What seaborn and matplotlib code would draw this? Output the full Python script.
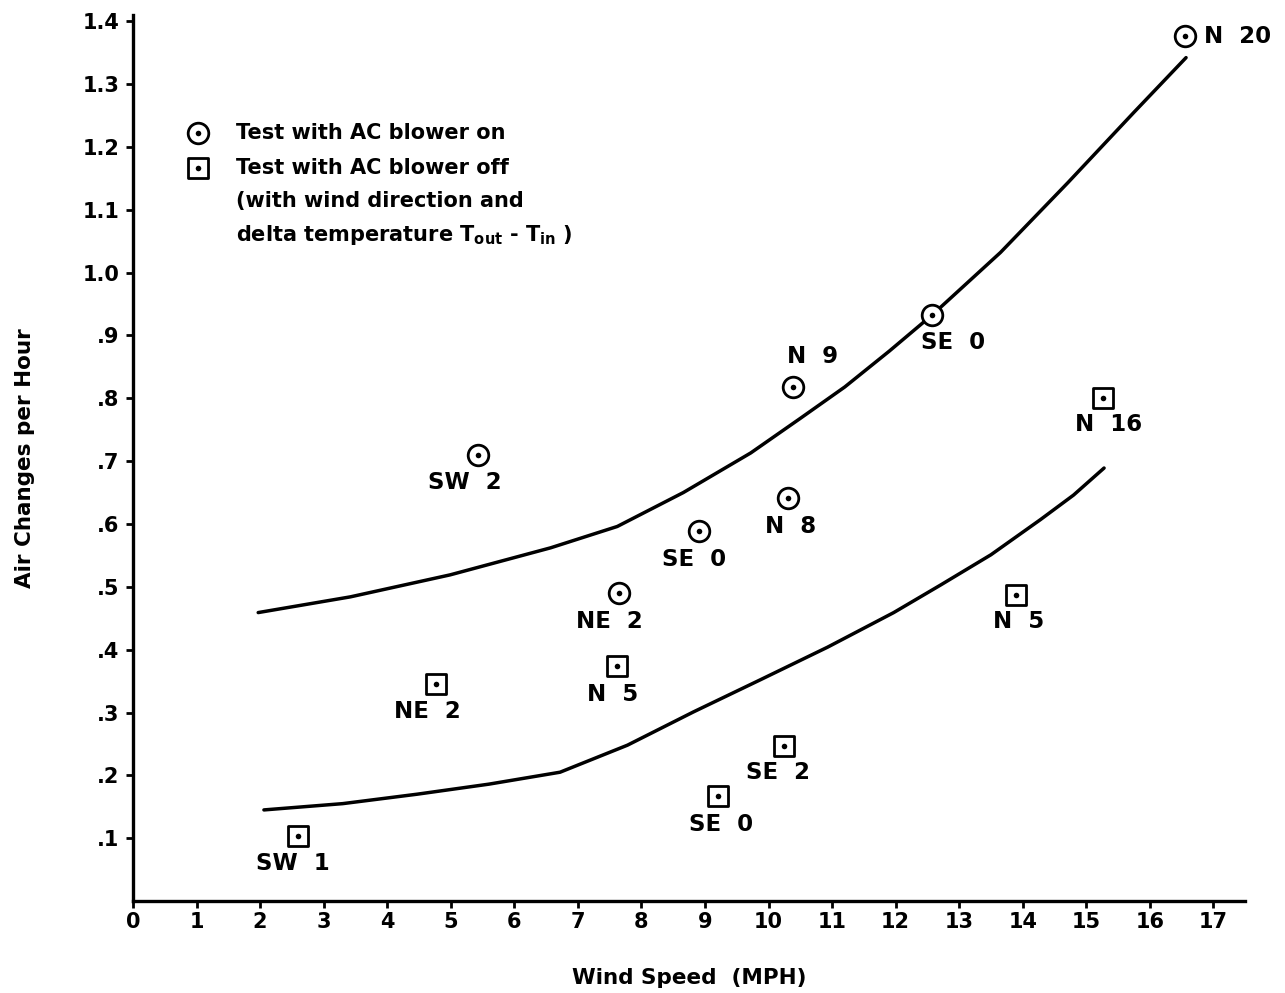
import numpy as np
import pandas as pd
import matplotlib
matplotlib.use("Agg")
import matplotlib.pyplot as plt
import seaborn as sns

# ---------------- data ----------------
on_x = [16.55, 12.57, 10.39, 5.43, 10.31, 8.91, 7.64]
on_y = [1.376, 0.932, 0.818, 0.709, 0.642, 0.589, 0.490]
on_labels = ["N  20", "SE  0", "N  9", "SW  2", "N  8", "SE  0", "NE  2"]

off_x = [15.26, 13.90, 4.76, 7.61, 10.25, 9.20, 2.60]
off_y = [0.801, 0.487, 0.346, 0.374, 0.247, 0.167, 0.104]
off_labels = ["N  16", "N  5", "NE  2", "N  5", "SE  2", "SE  0", "SW  1"]

upper_x = [1.97, 3.42, 4.99, 6.57, 7.62, 8.66, 9.72, 10.50, 11.20, 11.90, 12.58, 13.65, 14.71, 15.75, 16.57]
upper_y = [0.459, 0.484, 0.519, 0.562, 0.596, 0.650, 0.713, 0.768, 0.818, 0.875, 0.933, 1.032, 1.143, 1.255, 1.342]

lower_x = [2.06, 3.30, 4.47, 5.60, 6.72, 7.78, 8.82, 9.87, 10.93, 11.97, 12.71, 13.50, 14.28, 14.80, 15.28]
lower_y = [0.145, 0.155, 0.170, 0.186, 0.205, 0.248, 0.301, 0.352, 0.404, 0.459, 0.503, 0.551, 0.607, 0.646, 0.689]

x_ticks = list(range(0, 18))
y_ticks = [0.1, 0.2, 0.3, 0.4, 0.5, 0.6, 0.7, 0.8, 0.9, 1.0, 1.1, 1.2, 1.3, 1.4]
y_tick_labels = [".1", ".2", ".3", ".4", ".5", ".6", ".7", ".8", ".9", "1.0", "1.1", "1.2", "1.3", "1.4"]

legend_on = "Test with AC blower on"
legend_off = "Test with AC blower off"
legend_note1 = "(with wind direction and"
legend_note2 = r"delta temperature T$_{\mathbf{out}}$ - T$_{\mathbf{in}}$ )"
xlabel = "Wind Speed  (MPH)"
ylabel = "Air Changes per Hour"

# label offsets in pixels (layout only)
on_offsets = [(19, 0), (21, -27), (19, 30), (-13, -27), (2, -29), (-5, -29), (-9, -28)]
off_offsets = [(6, -27), (2, -27), (-8, -28), (-4, -29), (-6, -27), (3, -28), (-5, -28)]

# ---------------- style ----------------
sns.set_theme(style="white")
plt.rcParams["font.family"] = ["DejaVu Sans"]
plt.rcParams["font.weight"] = "bold"
plt.rcParams["text.color"] = "black"
plt.rcParams["axes.labelcolor"] = "black"
plt.rcParams["xtick.color"] = "black"
plt.rcParams["ytick.color"] = "black"
plt.rcParams["mathtext.fontset"] = "dejavusans"
plt.rcParams["mathtext.default"] = "bf"

fig = plt.figure(figsize=(12.85, 9.93), dpi=100)
ax = fig.add_axes([0.1035, 0.0926, 0.8655, 0.8924])

on_df = pd.DataFrame({"speed": on_x, "ach": on_y, "label": on_labels})
off_df = pd.DataFrame({"speed": off_x, "ach": off_y, "label": off_labels})
up_df = pd.DataFrame({"speed": upper_x, "ach": upper_y})
lo_df = pd.DataFrame({"speed": lower_x, "ach": lower_y})

sns.lineplot(data=up_df, x="speed", y="ach", ax=ax, color="black", linewidth=2.5,
             sort=True, solid_joinstyle="round", solid_capstyle="round")
sns.lineplot(data=lo_df, x="speed", y="ach", ax=ax, color="black", linewidth=2.5,
             sort=True, solid_joinstyle="round", solid_capstyle="round")

# open markers
sns.scatterplot(data=on_df, x="speed", y="ach", ax=ax, marker="o", s=220,
                facecolor="white", edgecolor="black", linewidth=2.0, zorder=3)
sns.scatterplot(data=off_df, x="speed", y="ach", ax=ax, marker="s", s=190,
                facecolor="white", edgecolor="black", linewidth=2.0, zorder=3)
# center dots
sns.scatterplot(data=on_df, x="speed", y="ach", ax=ax, marker="o", s=16,
                color="black", edgecolor="black", linewidth=0, zorder=4)
sns.scatterplot(data=off_df, x="speed", y="ach", ax=ax, marker="o", s=16,
                color="black", edgecolor="black", linewidth=0, zorder=4)

for xv, yv, lab, (dx, dy) in zip(on_x, on_y, on_labels, on_offsets):
    ha = "left" if dy == 0 else "center"
    ax.annotate(lab, (xv, yv), xytext=(dx, dy), textcoords="offset pixels",
                ha=ha, va="center", fontsize=16.5, fontweight="bold", color="black")
for xv, yv, lab, (dx, dy) in zip(off_x, off_y, off_labels, off_offsets):
    ax.annotate(lab, (xv, yv), xytext=(dx, dy), textcoords="offset pixels",
                ha="center", va="center", fontsize=16.5, fontweight="bold", color="black")

ax.set_xlim(0, 17.5)
ax.set_ylim(0, 1.41)
ax.set_xticks(x_ticks)
ax.set_xticklabels([str(t) for t in x_ticks])
ax.set_yticks(y_ticks)
ax.set_yticklabels(y_tick_labels)

for side in ["top", "right"]:
    ax.spines[side].set_visible(False)
for side in ["left", "bottom"]:
    ax.spines[side].set_linewidth(2.4)
    ax.spines[side].set_color("black")

ax.tick_params(axis="both", which="major", direction="out", length=5, width=2,
               color="black", labelsize=15, labelcolor="black", left=True, bottom=True)
ax.tick_params(axis="y", pad=5)
ax.tick_params(axis="x", pad=3)
for t in ax.get_xticklabels() + ax.get_yticklabels():
    t.set_fontweight("bold")

ax.set_xlabel(xlabel, fontsize=15.5, fontweight="bold", labelpad=26)
ax.set_ylabel(ylabel, fontsize=15.5, fontweight="bold", labelpad=34)

# legend (drawn manually in axes coordinates)
ax.scatter([0.0585], [0.8668], transform=ax.transAxes, marker="o", s=220,
           facecolor="white", edgecolor="black", linewidth=2.0, zorder=5)
ax.scatter([0.0585], [0.8273], transform=ax.transAxes, marker="s", s=190,
           facecolor="white", edgecolor="black", linewidth=2.0, zorder=5)
ax.scatter([0.0585, 0.0585], [0.8668, 0.8273], transform=ax.transAxes, s=16,
           color="black", linewidth=0, zorder=6)
legend_lines = [legend_on, legend_off, legend_note1, legend_note2]
legend_ys = [0.8668, 0.8273, 0.790, 0.7517]
for txt, yy in zip(legend_lines, legend_ys):
    ax.text(0.0926, yy, txt, transform=ax.transAxes, fontsize=15,
            fontweight="bold", va="center", ha="left")

fig.savefig("out.png", dpi=100)
